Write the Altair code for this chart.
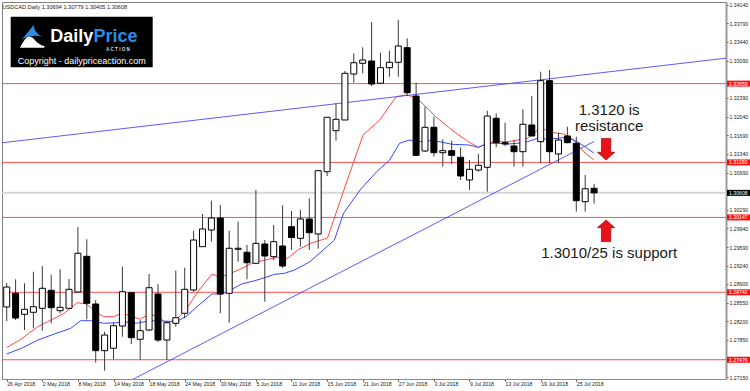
import altair as alt
import pandas as pd

FONT = "Liberation Sans"

# ---------------- data ----------------
tick_dates = ["26 Apr 2018", "2 May 2018", "8 May 2018", "14 May 2018", "18 May 2018",
              "24 May 2018", "30 May 2018", "5 Jun 2018", "11 Jun 2018", "15 Jun 2018",
              "21 Jun 2018", "27 Jun 2018", "3 Jul 2018", "9 Jul 2018", "13 Jul 2018",
              "19 Jul 2018", "25 Jul 2018"]

opens = [1.28466, 1.28723, 1.28329, 1.28366, 1.28441, 1.28779, 1.28396, 1.28441, 1.28747, 1.29417,
         1.28522, 1.27646, 1.27691, 1.28109, 1.28734, 1.27860, 1.28034, 1.28710, 1.27846, 1.28160,
         1.28348, 1.28785, 1.29598, 1.29911, 1.30136, 1.28723, 1.29549, 1.29493, 1.29286, 1.29648,
         1.29410, 1.29611, 1.29973, 1.29755, 1.30118, 1.29836, 1.31005, 1.31775, 1.31976, 1.32839,
         1.33040, 1.33083, 1.32665, 1.32958, 1.33059, 1.33333, 1.32426, 1.31394, 1.31839, 1.31362,
         1.31400, 1.31276, 1.30850, 1.31037, 1.31088, 1.32008, 1.31550, 1.31488, 1.31381, 1.31882,
         1.31569, 1.32714, 1.31338, 1.31676, 1.31539, 1.30442, 1.30694]
highs = [1.28916, 1.28986, 1.28911, 1.29128, 1.29235, 1.29072, 1.29173, 1.28991, 1.29967, 1.29737,
         1.28597, 1.28002, 1.28171, 1.29222, 1.28750, 1.28222, 1.29085, 1.28898, 1.28203, 1.29147,
         1.29204, 1.29898, 1.30211, 1.30461, 1.30380, 1.29898, 1.30067, 1.29630, 1.30662, 1.29723,
         1.30005, 1.30375, 1.30268, 1.30287, 1.30506, 1.31024, 1.32027, 1.32289, 1.32896, 1.33228,
         1.33340, 1.33815, 1.33239, 1.33277, 1.33853, 1.33509, 1.32676, 1.32225, 1.32038, 1.31614,
         1.31587, 1.31463, 1.31225, 1.31338, 1.32150, 1.32102, 1.31925, 1.31600, 1.32177, 1.32426,
         1.32882, 1.32914, 1.31737, 1.31850, 1.31662, 1.30943, 1.30779]
lows = [1.28203, 1.28222, 1.28034, 1.28072, 1.28021, 1.28160, 1.28348, 1.28428, 1.28729, 1.28235,
        1.27420, 1.27270, 1.27484, 1.27908, 1.27771, 1.27471, 1.28015, 1.27809, 1.27471, 1.28096,
        1.28254, 1.28753, 1.29598, 1.29692, 1.28348, 1.28171, 1.29316, 1.28986, 1.29286, 1.28565,
        1.29348, 1.29198, 1.29536, 1.29598, 1.29536, 1.29560, 1.30925, 1.31587, 1.31976, 1.32676,
        1.32852, 1.32614, 1.32652, 1.32788, 1.32788, 1.32426, 1.31300, 1.31375, 1.31287, 1.31099,
        1.31150, 1.30850, 1.30662, 1.31005, 1.30630, 1.31463, 1.31488, 1.31099, 1.31099, 1.31676,
        1.31163, 1.31163, 1.31163, 1.31539, 1.30255, 1.30255, 1.30405]
closes = [1.28841, 1.28259, 1.28423, 1.28471, 1.28817, 1.28453, 1.28460, 1.28798, 1.29474, 1.28535,
          1.27646, 1.27940, 1.28115, 1.28753, 1.27890, 1.28021, 1.28828, 1.27846, 1.28171, 1.28265,
          1.28798, 1.29723, 1.29930, 1.30136, 1.28710, 1.29568, 1.29568, 1.29297, 1.29661, 1.29423,
          1.29692, 1.29235, 1.29770, 1.30118, 1.29860, 1.31024, 1.32027, 1.31989, 1.32852, 1.33051,
          1.33102, 1.32652, 1.32958, 1.33059, 1.33365, 1.32488, 1.31313, 1.31839, 1.31362, 1.31400,
          1.31313, 1.30925, 1.31050, 1.31126, 1.32051, 1.31550, 1.31525, 1.31381, 1.31895, 1.31676,
          1.32714, 1.31381, 1.31600, 1.31550, 1.30461, 1.30686, 1.30608]

# fast (red) moving average: bar position, value
fast_pos = [0, 1.47, 3.5, 4.61, 6.46, 7.93, 8.98, 9.97, 10.89, 12.0, 12.92, 14.03, 14.96, 15.99,
            16.99, 17.91, 19.02, 20.12, 21.61, 23.08, 24.0, 24.93, 26.04, 27.52, 28.99, 30.47,
            31.58, 32.69, 34.16, 36.05, 38.04, 40.04, 41.92, 43.77, 44.88, 45.99, 47.10, 48.2,
            49.68, 50.79, 51.9, 53.0, 54.11, 55.22, 56.33, 57.43, 58.54, 59.65, 60.39, 61.5,
            62.61, 63.72, 64.83, 65.97]
fast_ma = [1.27706, 1.27846, 1.28096, 1.28190, 1.28348, 1.28547, 1.28522, 1.28378, 1.28284, 1.28284,
           1.28348, 1.28297, 1.28235, 1.28334, 1.28288, 1.28171, 1.28222, 1.28410, 1.28785, 1.29085,
           1.29023, 1.29085, 1.29160, 1.29286, 1.29348, 1.29399, 1.29380, 1.29536, 1.29661, 1.29761,
           1.30737, 1.31694, 1.31976, 1.32413, 1.32445, 1.32402, 1.32225, 1.32038, 1.31835, 1.31694,
           1.31569, 1.31463, 1.31550, 1.31569, 1.31569, 1.31600, 1.31632, 1.31788, 1.31801, 1.31737,
           1.31713, 1.31600, 1.31381, 1.31225]

# slow (blue) moving average
slow_pos = [0, 1.66, 3.5, 5.35, 7.2, 8.31, 9.42, 10.89, 12.37, 13.11, 14.58, 16.07, 17.54, 19.02,
            20.12, 21.61, 23.08, 24.19, 25.3, 26.41, 27.88, 28.99, 30.1, 31.21, 32.31, 33.42,
            34.16, 36.82, 37.85, 39.7, 41.56, 43.03, 44.14, 45.25, 46.35, 47.46, 48.57, 50.05,
            51.9, 53.0, 54.11, 55.22, 56.33, 57.43, 58.54, 59.65, 60.76, 61.87, 62.98, 64.09,
            65.2, 65.97]
slow_ma = [1.27584, 1.27691, 1.27846, 1.27959, 1.28066, 1.28209, 1.28209, 1.28160, 1.28171, 1.28190,
           1.28160, 1.28209, 1.28203, 1.28190, 1.28284, 1.28503, 1.28710, 1.28710, 1.28798, 1.28898,
           1.28960, 1.29016, 1.29079, 1.29098, 1.29160, 1.29254, 1.29329, 1.29723, 1.30225, 1.30662,
           1.31005, 1.31225, 1.31539, 1.31600, 1.31569, 1.31587, 1.31569, 1.31520, 1.31507, 1.31463,
           1.31539, 1.31539, 1.31525, 1.31539, 1.31569, 1.31632, 1.31614, 1.31632, 1.31651, 1.31569,
           1.31450, 1.31356]

# hand-drawn trendlines (bar position, price)
upper_trend_pos = [-1, 81]
upper_trend_val = [1.31539, 1.33140]
lower_trend_pos = [13, 66]
lower_trend_val = [1.27007, 1.31572]

levels = [1.32659, 1.31180, 1.30147, 1.28742, 1.27476]
last_price = 1.30608
axis_ticks = [1.34140, 1.33790, 1.33440, 1.33090, 1.32390, 1.32040, 1.31690, 1.31340, 1.30990,
              1.30290, 1.29940, 1.29590, 1.29240, 1.28900, 1.28550, 1.28200, 1.27850, 1.27150]

header = "USDCAD,Daily  1.30694 1.30779 1.30405 1.30608"
note_lines = ["1.3120 is", "resistance", "1.3010/25 is support"]
note_pos = [67.69, 67.69, 67.69]
note_val = [1.32070, 1.31769, 1.29380]
arrow_pos = [67.35, 67.35]
arrow_val = [1.31428, 1.29896]

# ---------------- scales / axes ----------------
X_DOMAIN = [0.033, 80.26]
Y_DOMAIN = [1.271144, 1.341907]
label_expr = "[" + ",".join("'%s'" % d for d in tick_dates) + "][round(datum.value/4)]"


def X(field):
    return alt.X(f"{field}:Q",
                 scale=alt.Scale(domain=X_DOMAIN, nice=False, zero=False),
                 axis=alt.Axis(values=list(range(0, 4 * len(tick_dates), 4)), labelExpr=label_expr,
                               labelAlign="left", labelFont=FONT, labelFontSize=5.2,
                               labelColor="#222222", labelPadding=0, labelFlush=False,
                               labelOverlap=False, tickSize=2, tickColor="#444444",
                               domainColor="#8a8a8a", grid=False, title=None))


def Y(field):
    return alt.Y(f"{field}:Q",
                 scale=alt.Scale(domain=Y_DOMAIN, nice=False, zero=False),
                 axis=alt.Axis(orient="right", values=axis_ticks, format=".5f", labelFont=FONT,
                               labelFontSize=5.2, labelColor="#222222", labelPadding=1,
                               labelFlush=False, labelOverlap=False, tickSize=2,
                               tickColor="#444444", domainColor="#9a9a9a", domainWidth=2,
                               grid=False, title=None))


n = len(opens)
candles = pd.DataFrame({"i": list(range(n)), "open": opens, "high": highs,
                        "low": lows, "close": closes})
candles["fillc"] = ["#ffffff" if c >= o else "#000000" for o, c in zip(opens, closes)]

fast_df = pd.DataFrame({"i": fast_pos, "v": fast_ma})
slow_df = pd.DataFrame({"i": slow_pos, "v": slow_ma})
trend_df = pd.DataFrame({
    "i": upper_trend_pos + lower_trend_pos,
    "v": upper_trend_val + lower_trend_val,
    "line": ["upper"] * 2 + ["lower"] * 2,
})
levels_df = pd.DataFrame({"p": levels, "label": ["%.5f" % v for v in levels]})
last_df = pd.DataFrame({"p": [last_price], "label": ["%.5f" % last_price]})
notes_df = pd.DataFrame({"i": note_pos, "v": note_val, "t": note_lines})
one = pd.DataFrame({"a": [0]})

# ---------------- layers ----------------
last_line = alt.Chart(last_df).mark_rule(color="#d6d6d6", strokeWidth=2).encode(y=Y("p"))
level_lines = alt.Chart(levels_df).mark_rule(color="#ff4f4f", strokeWidth=1).encode(y=Y("p"))

fast_line = alt.Chart(fast_df).mark_line(color="#ff4545", strokeWidth=1).encode(
    x=X("i"), y=Y("v"), order="i:Q")
slow_line = alt.Chart(slow_df).mark_line(color="#3848ff", strokeWidth=1).encode(
    x=X("i"), y=Y("v"), order="i:Q")
trend_lines = alt.Chart(trend_df).mark_line(color="#4848ff", strokeWidth=0.9, clip=True).encode(
    x=X("i"), y=Y("v"), detail="line:N")

wicks = alt.Chart(candles).mark_rule(color="#3a3a3a", strokeWidth=1).encode(
    x=X("i"), y=Y("low"), y2=alt.Y2("high"))
bodies = alt.Chart(candles).mark_bar(size=6, stroke="#000000", strokeWidth=1).encode(
    x=X("i"), y=Y("open"), y2=alt.Y2("close"), fill=alt.Fill("fillc:N", scale=None))

notes = alt.Chart(notes_df).mark_text(font=FONT, fontSize=15, color="#1a1a1a",
                                       align="center", baseline="alphabetic").encode(
    x=X("i"), y=Y("v"), text="t:N")

down_path = "M-0.54,-1.25L0.54,-1.25L0.54,0.36L1,0.36L0,1.25L-1,0.36L-0.54,0.36Z"
up_path = "M0,-1.25L1,-0.36L0.54,-0.36L0.54,1.25L-0.54,1.25L-0.54,-0.36L-1,-0.36Z"
arrow_down = alt.Chart(pd.DataFrame({"i": [arrow_pos[0]], "v": [arrow_val[0]]})).mark_point(
    shape=down_path, size=299, filled=True, fill="#e8121a", stroke="#9b0000",
    strokeWidth=0.7, opacity=1).encode(x=X("i"), y=Y("v"))
arrow_up = alt.Chart(pd.DataFrame({"i": [arrow_pos[1]], "v": [arrow_val[1]]})).mark_point(
    shape=up_path, size=299, filled=True, fill="#e8121a", stroke="#9b0000",
    strokeWidth=0.7, opacity=1).encode(x=X("i"), y=Y("v"))

# header + logo (decoration placed in view pixels)
head = alt.Chart(one).mark_text(font=FONT, fontSize=5.6, color="#222222", align="left",
                                baseline="middle", text=header).encode(
    x=alt.value(0.5), y=alt.value(4.6))
logo_box = alt.Chart(one).mark_rect(color="#000000").encode(
    x=alt.value(8.7), x2=alt.value(150.7), y=alt.value(14.7), y2=alt.value(65.3))
logo_white = alt.Chart(one).mark_point(
    shape="M-1,1 C-0.7,0.4 -0.45,0.05 -0.2,0.1 C0.2,0.2 0.3,0.75 0.95,0.85 L0.95,1 Z",
    size=625, filled=True, fill="#ffffff", opacity=1, strokeWidth=0).encode(
    x=alt.value(30.5), y=alt.value(33.3))
logo_blue = alt.Chart(one).mark_point(
    shape="M-0.86,0.35 C-0.5,-0.1 -0.15,-0.5 0.1,-0.85 C0.1,-0.45 0.35,-0.05 0.9,0.15 "
          "C0.3,-0.05 -0.35,0.05 -0.86,0.35 Z",
    size=625, filled=True, fill="#2b8ce6", opacity=1, strokeWidth=0).encode(
    x=alt.value(30.5), y=alt.value(33.3))
logo_daily = alt.Chart(one).mark_text(font=FONT, fontSize=18, fontWeight="bold",
                                      color="#ffffff", align="right", baseline="alphabetic",
                                      text="Daily").encode(x=alt.value(91.3), y=alt.value(40.0))
logo_price = alt.Chart(one).mark_text(font=FONT, fontSize=18, fontWeight="bold",
                                      color="#2b8ce6", align="left", baseline="alphabetic",
                                      text="Price").encode(x=alt.value(91.5), y=alt.value(40.0))
logo_action = alt.Chart(one).mark_text(font=FONT, fontSize=4.6, fontWeight="bold",
                                       color="#d8d8d8", align="center", baseline="top",
                                       text="A   C   T   I   O   N").encode(
    x=alt.value(116), y=alt.value(44.6))
logo_copy = alt.Chart(one).mark_text(font=FONT, fontSize=9, color="#ffffff", align="center",
                                     baseline="alphabetic",
                                     text="Copyright - dailypriceaction.com").encode(
    x=alt.value(79.8), y=alt.value(61.6))

# price tags on the right axis
level_tags = alt.Chart(levels_df).mark_tick(orient="horizontal", size=23, thickness=6,
                                            color="#ff1010", opacity=1).encode(
    x=alt.value(736.5), y=Y("p"))
level_text = alt.Chart(levels_df).mark_text(font=FONT, fontSize=5.2, color="#ffffff",
                                            align="left", baseline="middle").encode(
    x=alt.value(727), y=Y("p"), text="label:N")
last_tag = alt.Chart(last_df).mark_tick(orient="horizontal", size=23, thickness=6,
                                        color="#000000", opacity=1).encode(
    x=alt.value(736.5), y=Y("p"))
last_text = alt.Chart(last_df).mark_text(font=FONT, fontSize=5.2, color="#ffffff",
                                         align="left", baseline="middle").encode(
    x=alt.value(727), y=Y("p"), text="label:N")

chart = alt.layer(
    last_line, level_lines, fast_line, slow_line, trend_lines, wicks, bodies,
    notes, arrow_down, arrow_up, head, logo_box, logo_white, logo_blue, logo_daily,
    logo_price, logo_action, logo_copy, level_tags, level_text, last_tag, last_text,
).properties(
    width=724, height=377,
    autosize=alt.AutoSizeParams(type="none"),
    padding={"left": 2, "top": 2, "right": 24, "bottom": 12},
    background="#ffffff",
).configure_view(stroke="#7f7f7f", strokeWidth=1)

chart.save("out.html", embed_options={"renderer": "svg", "actions": False})
